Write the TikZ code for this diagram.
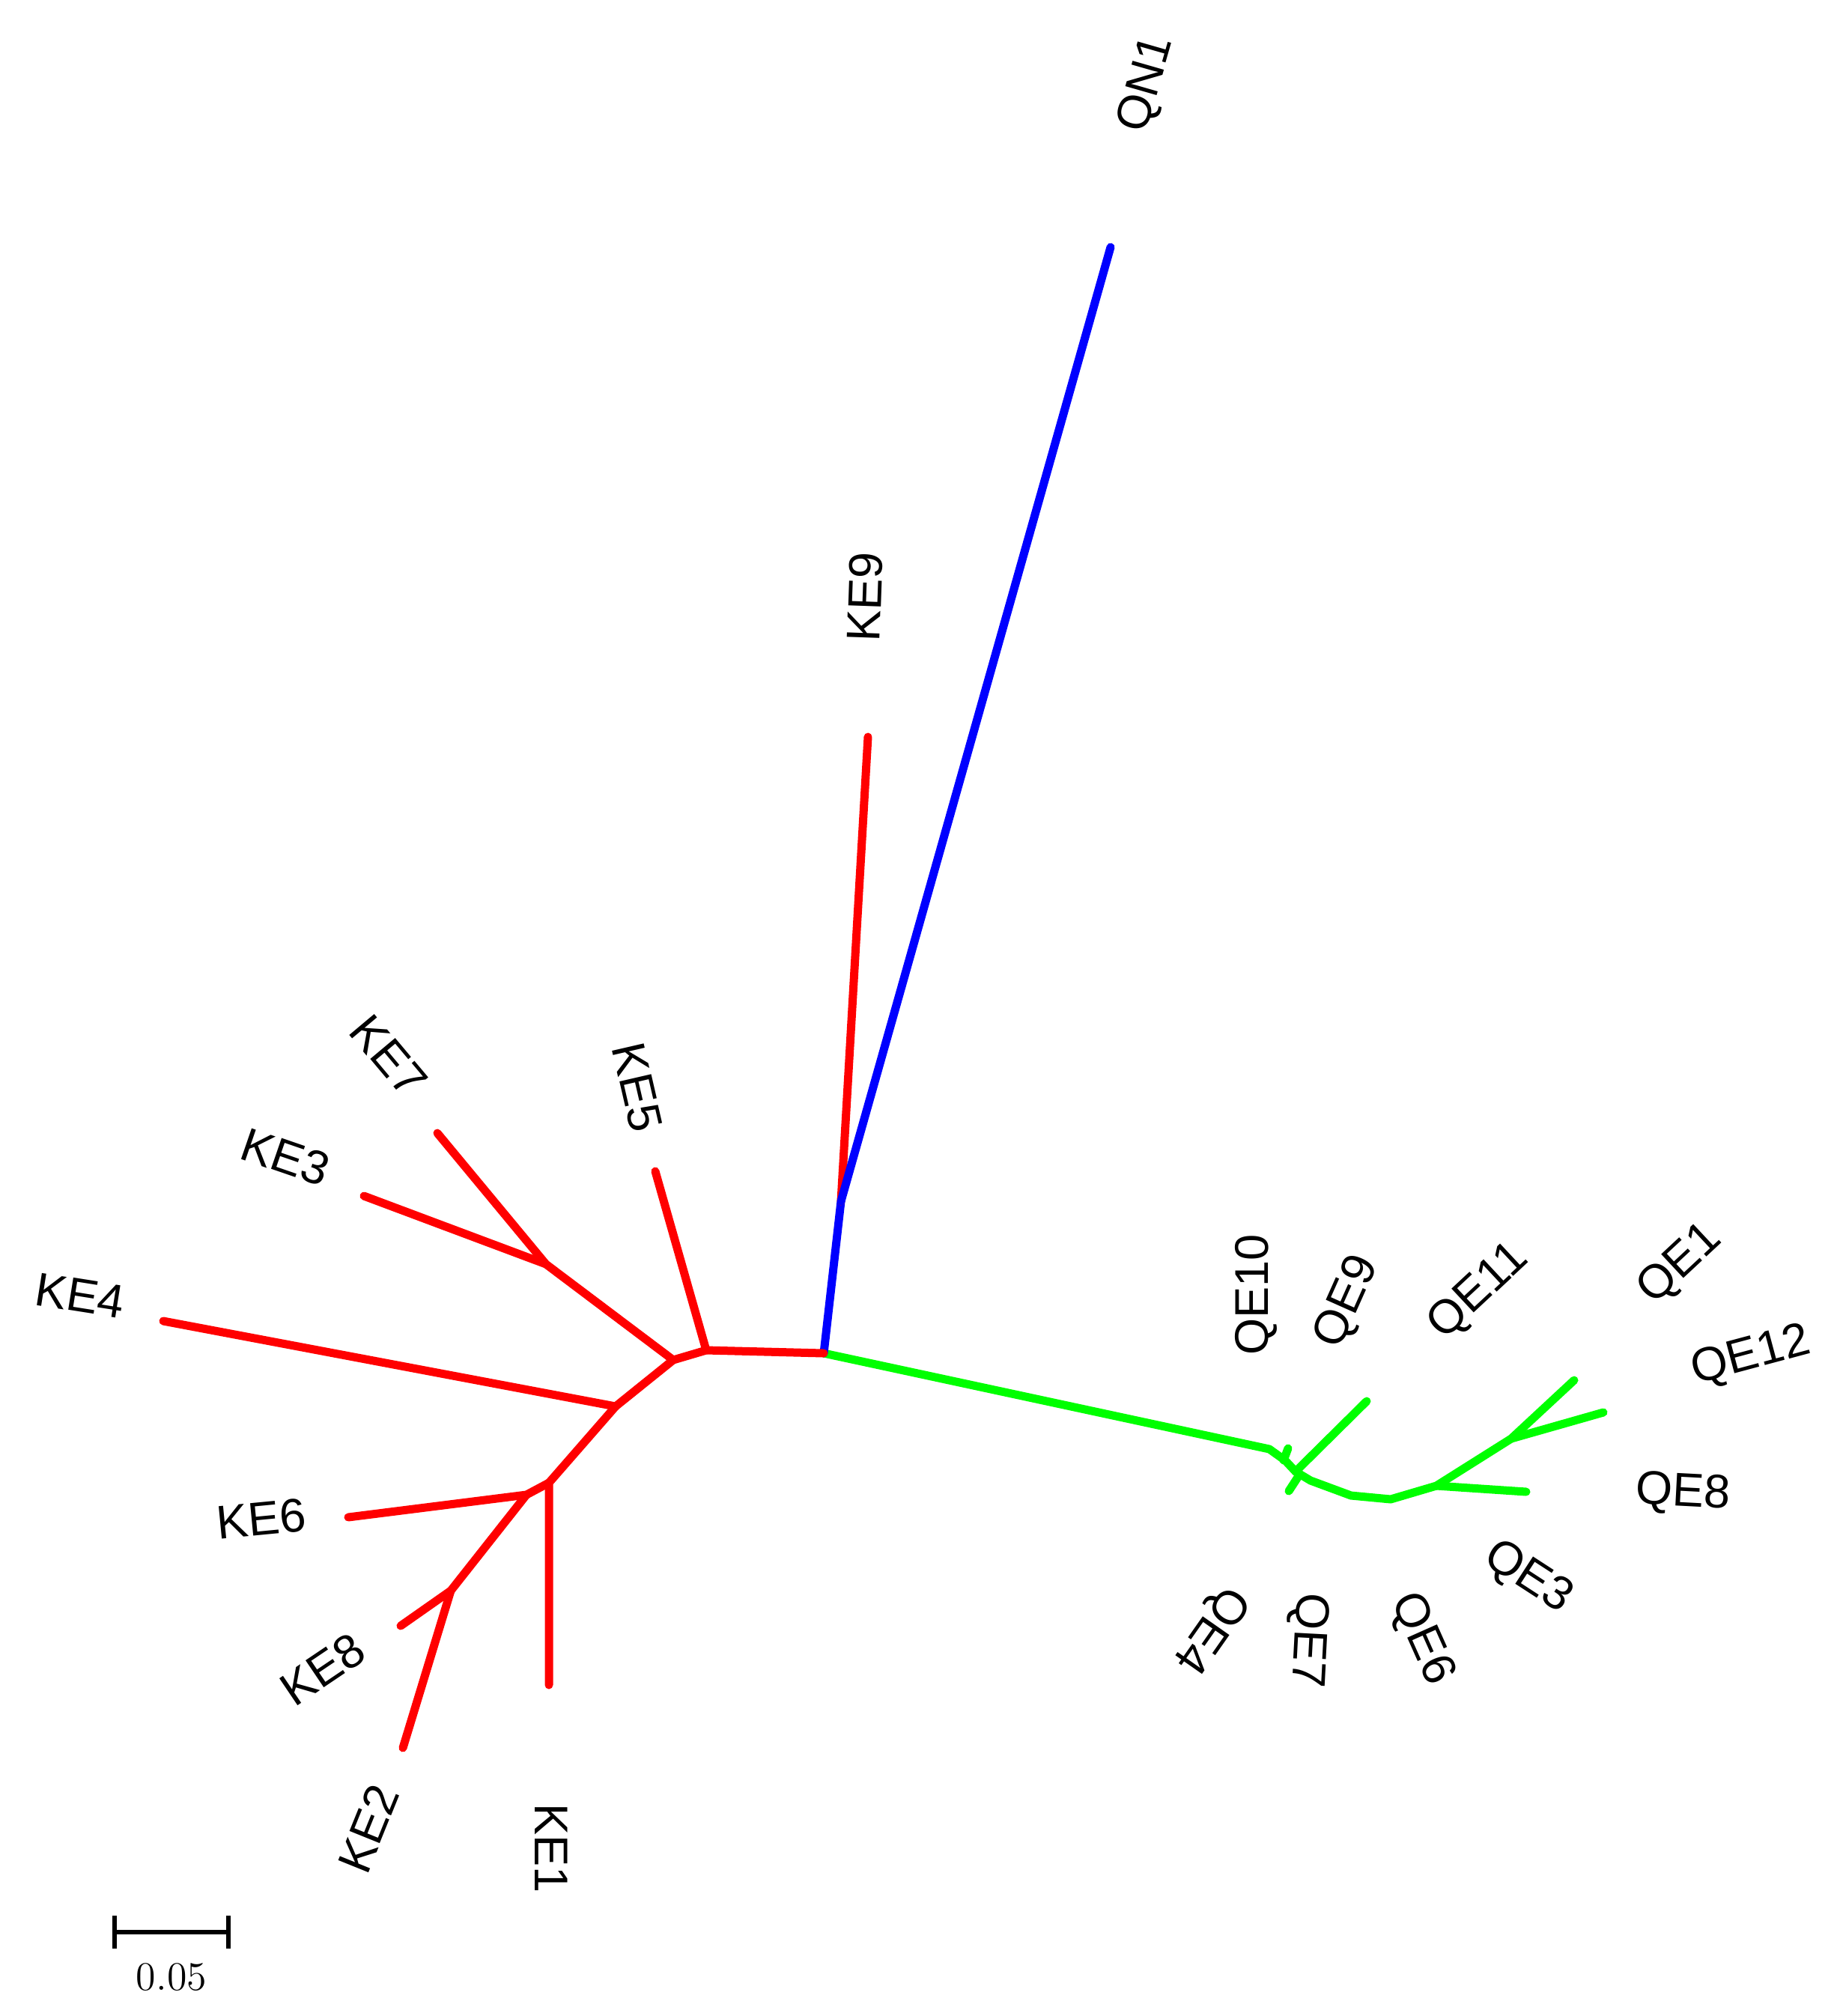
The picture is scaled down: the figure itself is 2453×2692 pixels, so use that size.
\documentclass[tikz,border=0pt]{standalone}
\usepackage{fontspec}
\newfontfamily\labfont{Liberation Sans}
\begin{document}
\begin{tikzpicture}[x=0.25pt,y=-0.25pt,
  br/.style={line width=2.75pt,line cap=round,line join=round},
  redbr/.style={br,draw={rgb,255:red,255;green,0;blue,0}},
  bluebr/.style={br,draw={rgb,255:red,0;green,0;blue,255}},
  greenbr/.style={br,draw={rgb,255:red,0;green,255;blue,0}},
  lbl/.style={font=\labfont\fontsize{15.8}{18}\selectfont,inner sep=0pt,anchor=center},
  sbar/.style={line width=1.4pt}]
\useasboundingbox (0,0) rectangle (2453,2692);
% internal nodes and tips
\coordinate (R) at (1100,1807);
\coordinate (N1) at (1123,1604);
\coordinate (tQN1) at (1483,330);
\coordinate (tKE9) at (1159,984);
\coordinate (A) at (943,1803);
\coordinate (B) at (899,1816);
\coordinate (C) at (729,1688);
\coordinate (tKE7) at (584,1513);
\coordinate (tKE3) at (486,1597);
\coordinate (tKE5) at (875,1564);
\coordinate (D) at (822,1878);
\coordinate (tKE4) at (218,1764);
\coordinate (E) at (733,1980);
\coordinate (tKE1) at (733,2250);
\coordinate (F) at (703,1996);
\coordinate (tKE6) at (465,2026);
\coordinate (G) at (602,2124);
\coordinate (tKE8) at (535,2171);
\coordinate (tKE2) at (538,2334);
\coordinate (H) at (1695,1935);
\coordinate (g1) at (1716,1950);
\coordinate (g2) at (1730,1965);
\coordinate (g3) at (1750,1977);
\coordinate (g4) at (1804,1997);
\coordinate (g5) at (1857,2002);
\coordinate (J) at (1918,1984);
\coordinate (K) at (2018,1921);
\coordinate (tQE1) at (2102,1843);
\coordinate (tQE12) at (2141,1886);
\coordinate (tQE8) at (2038,1992);
\coordinate (tQE9) at (1825,1871);
\coordinate (q10a) at (1720,1934);
\coordinate (q10b) at (1714,1950);
\coordinate (q4a) at (1734,1971);
\coordinate (q4b) at (1721,1991);
% green clade
\draw[greenbr] (R) -- (H) -- (g1) -- (g2) -- (g3) -- (g4) -- (g5) -- (J) -- (K) -- (tQE1);
\draw[greenbr] (K) -- (tQE12);
\draw[greenbr] (J) -- (tQE8);
\draw[greenbr] (g2) -- (tQE9);
\draw[greenbr] (q10a) -- (q10b);
\draw[greenbr] (q4a) -- (q4b);
% blue root edge
\draw[bluebr] (R) -- (N1);
% red clade
\draw[redbr] (N1) -- (tKE9);
\draw[redbr] (R) -- (A) -- (B) -- (C) -- (tKE7);
\draw[redbr] (C) -- (tKE3);
\draw[redbr] (A) -- (tKE5);
\draw[redbr] (B) -- (D) -- (tKE4);
\draw[redbr] (D) -- (E) -- (tKE1);
\draw[redbr] (E) -- (F) -- (tKE6);
\draw[redbr] (F) -- (G) -- (tKE8);
\draw[redbr] (G) -- (tKE2);
% blue outgroup
\draw[bluebr] (N1) -- (tQN1);
% labels
\node[lbl,rotate=74] (lQN1) at (1532,113) {QN1};
\node[lbl,rotate=88] (lKE9) at (1155,797) {KE9};
\node[lbl,rotate=-77] (lKE5) at (851,1452) {KE5};
\node[lbl,rotate=-50] (lKE7) at (519,1410) {KE7};
\node[lbl,rotate=-19] (lKE3) at (381,1545) {KE3};
\node[lbl,rotate=-9] (lKE4) at (107,1730) {KE4};
\node[lbl,rotate=5.5] (lKE6) at (349,2028) {KE6};
\node[lbl,rotate=34] (lKE8) at (431,2229) {KE8};
\node[lbl,rotate=68] (lKE2) at (492,2442) {KE2};
\node[lbl,rotate=-90] (lKE1) at (736,2468) {KE1};
\node[lbl,rotate=90] (lQE10) at (1677,1729) {QE10};
\node[lbl,rotate=66] (lQE9) at (1800,1739) {QE9};
\node[lbl,rotate=43] (lQE11) at (1975,1725) {QE11};
\node[lbl,rotate=43] (lQE1) at (2244,1689) {QE1};
\node[lbl,rotate=15] (lQE12) at (2338,1812) {QE12};
\node[lbl,rotate=-3] (lQE8) at (2247,1995) {QE8};
\node[lbl,rotate=-33] (lQE3) at (2040,2107) {QE3};
\node[lbl,rotate=-66] (lQE6) at (1898,2189) {QE6};
\node[lbl,rotate=-93] (lQE7) at (1745,2190) {QE7};
\node[lbl,rotate=-125] (lQE4) at (1615,2175) {QE4};
% scale bar
\coordinate (sb1) at (153,2580);
\coordinate (sb2) at (305,2580);
\coordinate (sb1t) at (153,2558);
\coordinate (sb1b) at (153,2602);
\coordinate (sb2t) at (305,2558);
\coordinate (sb2b) at (305,2602);
\draw[sbar] (sb1) -- (sb2);
\draw[sbar] (sb1t) -- (sb1b);
\draw[sbar] (sb2t) -- (sb2b);
\node[inner sep=0pt,font=\fontsize{13.5}{16}\selectfont] (sblab) at (229,2640) {0.05};
\end{tikzpicture}
\end{document}
